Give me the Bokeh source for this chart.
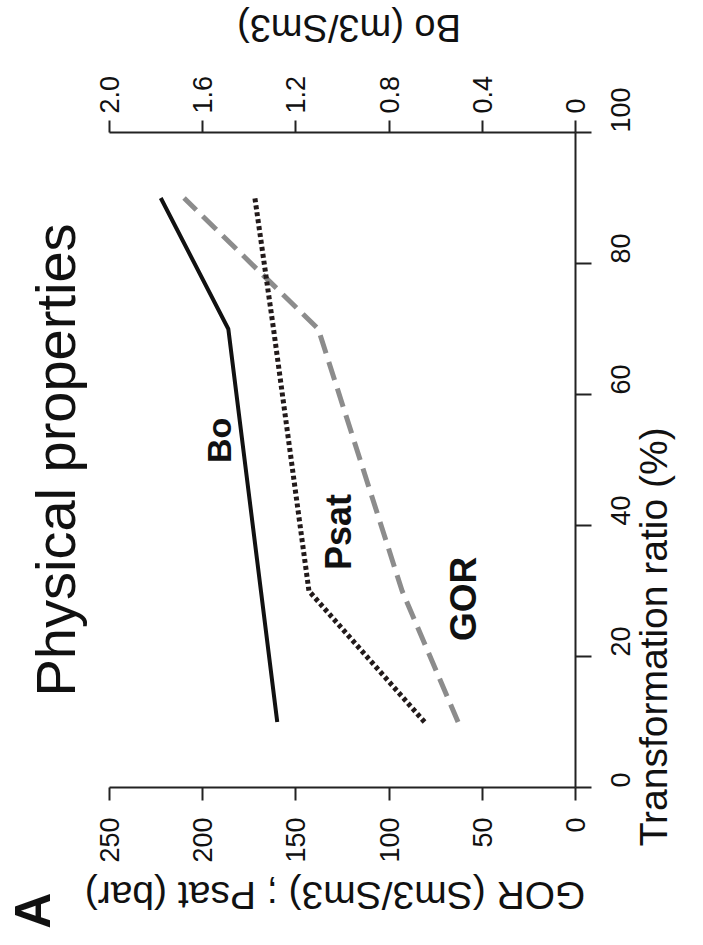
import math
from bokeh.plotting import figure
from bokeh.models import Range1d, LinearAxis, FixedTicker, Label
from bokeh.embed import file_html
from bokeh.resources import INLINE

# ---- data ----
transformation = [10, 30, 70, 90]          # Transformation ratio (%)
gor = [63, 93, 138, 210]                    # GOR (Sm3/Sm3)
psat = [81, 143, 162, 172]                  # Psat (bar)
bo = [1.28, 1.35, 1.49, 1.78]               # Bo (m3/Sm3)

left_ticks = [0, 50, 100, 150, 200, 250]
bo_ticks = [0, 0.4, 0.8, 1.2, 1.6, 2.0]
bo_tick_labels = ["0", "0.4", "0.8", "1.2", "1.6", "2.0"]
tr_ticks = [0, 20, 40, 60, 80, 100]

title_text = "Physical properties"
xlab = "Transformation ratio (%)"
ylab = "GOR (Sm3/Sm3) ; Psat (bar)"
ylab2 = "Bo (m3/Sm3)"
panel = "A"

FONT = "Liberation Sans"
AX = "#222222"

# ---- layout (the whole canvas is the frame; axes are placed inside it) ----
W, H = 687, 929
PX_G = 466 / 250.0      # pixels per GOR unit (horizontal, increasing to the left)
PX_T = 655 / 100.0      # pixels per % (vertical, increasing upward)
X0, Y0 = 575, 787       # canvas position of GOR=0 / transformation=0
g_left, g_right = X0 / PX_G, (X0 - W) / PX_G
t_top, t_bot = Y0 / PX_T, (Y0 - H) / PX_T
BO_PER_G = 2.0 / 250.0

p = figure(width=W, height=H, output_backend="svg", toolbar_location=None,
           x_range=Range1d(g_left, g_right), y_range=Range1d(t_bot, t_top),
           min_border=0, x_axis_location=None, y_axis_location=None)
p.extra_x_ranges = {"bo": Range1d(g_left * BO_PER_G, g_right * BO_PER_G)}
p.outline_line_color = None
p.xgrid.visible = False
p.ygrid.visible = False
p.background_fill_color = "white"
p.border_fill_color = "white"

def style(ax, tick_out, standoff):
    ax.axis_line_color = AX
    ax.axis_line_width = 2
    ax.major_tick_line_color = AX
    ax.major_tick_line_width = 2
    ax.major_tick_out = tick_out
    ax.major_tick_in = 0
    ax.minor_tick_out = 0
    ax.minor_tick_in = 0
    ax.major_label_text_font = FONT
    ax.major_label_text_font_size = "27px"
    ax.major_label_text_color = "#111111"
    ax.major_label_orientation = math.pi / 2
    ax.major_label_standoff = standoff

ax_b = LinearAxis(ticker=FixedTicker(ticks=left_ticks), fixed_location=0,
                  bounds=(0, 250))
style(ax_b, 13, 17)
p.add_layout(ax_b, "below")

ax_t = LinearAxis(x_range_name="bo", ticker=FixedTicker(ticks=bo_ticks),
                  fixed_location=100, bounds=(0, 2.0),
                  major_label_overrides=dict(zip(bo_ticks, bo_tick_labels)))
style(ax_t, 12, 7)
p.add_layout(ax_t, "above")

ax_r = LinearAxis(ticker=FixedTicker(ticks=tr_ticks), fixed_location=0,
                  bounds=(0, 100))
style(ax_r, 16, 29)
p.add_layout(ax_r, "right")

# ---- series ----
p.line(x=gor, y=transformation, line_color="#8c8c8c", line_width=5,
       line_dash="19 9")
p.line(x=psat, y=transformation, line_color="#221a1a", line_width=5,
       line_dash="4 3")
p.line(x=bo, y=transformation, x_range_name="bo", line_color="#111111",
       line_width=4)

# ---- texts ----
def lab(text, x, y, size, angle, bold=False, baseline="middle"):
    p.add_layout(Label(x=x, y=y, text=text, angle=angle,
                       text_font=FONT, text_font_size=size,
                       text_font_style="bold" if bold else "normal",
                       text_color="#111111", text_align="center",
                       text_baseline=baseline))

lab(title_text, 279, 50, "56px", math.pi / 2)
lab(xlab, -42, 23, "39px", math.pi / 2)
lab(ylab, 129, -16.5, "39px", math.pi)
lab(ylab2, 121.5, 116, "38px", math.pi)
lab(panel, 291, -18.8, "50px", math.pi / 2, bold=True, baseline="alphabetic")
lab("Bo", 191, 53, "34px", math.pi / 2, bold=True)
lab("Psat", 127, 39, "36px", math.pi / 2, bold=True)
lab("GOR", 60, 28.8, "37px", math.pi / 2, bold=True)

open("out.html", "w").write(file_html(p, INLINE))
